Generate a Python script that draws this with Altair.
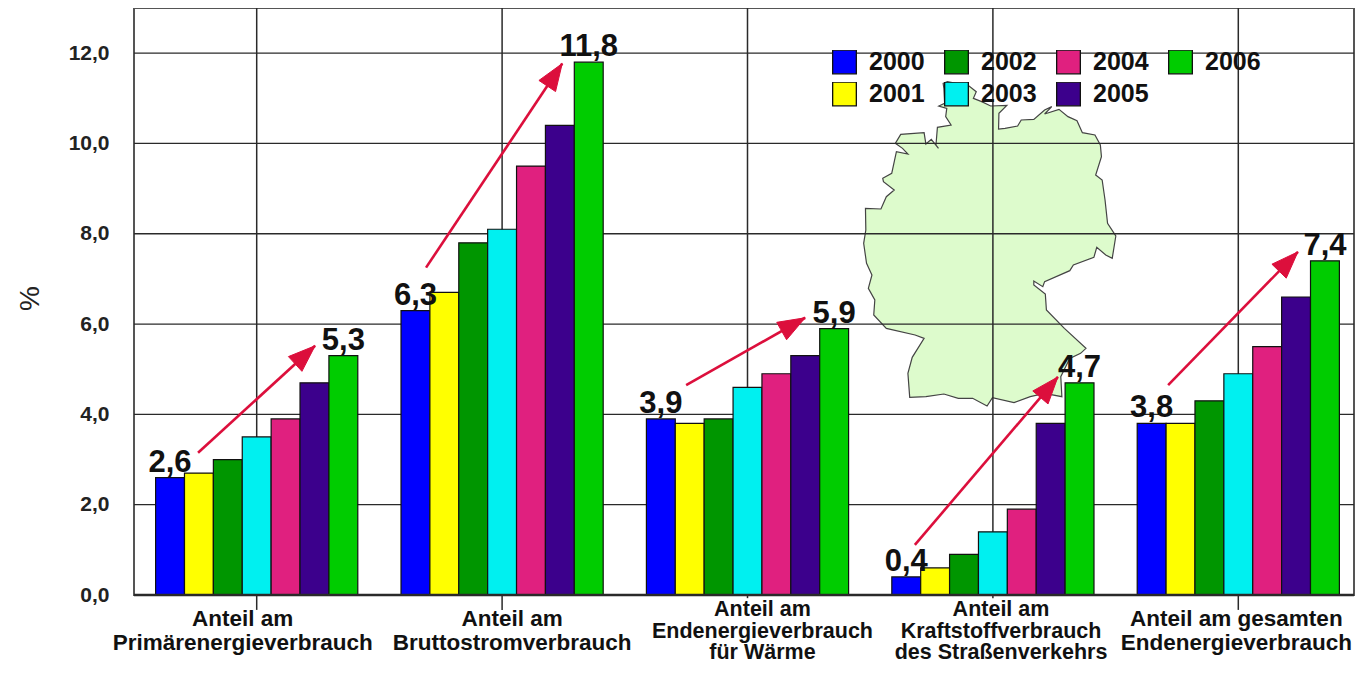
import altair as alt
import pandas as pd

CATEGORIES = ["Anteil am\nPrimärenergieverbrauch", "Anteil am\nBruttostromverbrauch",
              "Anteil am\nEndenergieverbrauch\nfür Wärme",
              "Anteil am\nKraftstoffverbrauch\ndes Straßenverkehrs",
              "Anteil am gesamten\nEndenergieverbrauch"]
YEARS = ["2000", "2001", "2002", "2003", "2004", "2005", "2006"]
COLORS = ["#0000FF", "#FFFF00", "#009600", "#00F0F0", "#E0207F", "#3C008C", "#00CC00"]
VALUES = [
    [2.6, 2.7, 3.0, 3.5, 3.9, 4.7, 5.3],
    [6.3, 6.7, 7.8, 8.1, 9.5, 10.4, 11.8],
    [3.9, 3.8, 3.9, 4.6, 4.9, 5.3, 5.9],
    [0.4, 0.6, 0.9, 1.4, 1.9, 3.8, 4.7],
    [3.8, 3.8, 4.3, 4.9, 5.5, 6.6, 7.4],
]
LABEL_NUDGE = [-0.057, 0.041, 0.061, 0.033, -0.008]
TICK_DROP = [0.33, 0.33, 0.07, 0.07, 0.33]
Y_TICKS = [0, 2, 4, 6, 8, 10, 12]

# arrows: start x, start y, tip x, tip y (x in group units, y in percent)
ARROWS = [
    (0.261, 3.15, 0.738, 5.52),
    (1.190, 7.25, 1.745, 11.77),
    (2.250, 4.65, 2.735, 6.14),
    (3.182, 1.11, 3.765, 4.83),
    (4.214, 4.65, 4.743, 7.60),
]

# outline of the map, as (x, y) in a local picture grid
MAP_OUTLINE = [
    (386,318),(402,310),(400,265),(398,250),(410,245),(470,258),(490,275),(482,295),(505,305),
    (530,318),(575,316),(553,340),(552,387),(570,385),(605,378),(615,360),(650,358),(680,330),
    (700,320),(680,342),(720,328),(745,350),(770,362),(785,398),(820,405),(835,435),(838,470),
    (822,525),(840,540),(848,600),(855,670),(878,708),(868,775),(850,765),(825,742),(817,772),
    (760,795),(750,812),(680,845),(675,860),(650,843),(650,855),(682,882),(685,930),(735,985),
    (795,1045),(780,1060),(750,1075),(725,1130),(728,1190),(680,1180),(640,1190),(595,1208),
    (535,1193),(520,1218),(480,1195),(440,1195),(400,1182),(350,1190),(305,1192),(300,1120),
    (312,1072),(345,1015),(320,1005),(240,985),(205,945),(208,900),(190,865),(200,825),(185,790),
    (177,730),(183,690),(182,625),(225,627),(240,590),(262,570),(232,545),(230,535),(255,520),
    (268,455),(300,462),(285,445),(265,430),(280,403),(345,398),(350,432),(365,418),(385,445),
    (378,435),(382,382),(420,375),(405,350),(408,325),
]

W, H = 1220, 587
GROUP_PX = 245.4
FONT = "Liberation Sans"
BAR = 0.1177
XMAX, YMAX = W / GROUP_PX, 13
ink = "#2a2a2a"
red = "#DC0F3C"

px = lambda v: v / W * XMAX     # pixel length -> x units
py = lambda v: v / H * YMAX     # pixel length -> y units

bars = pd.DataFrame([
    {"cat": c, "year": y, "v": VALUES[c][i], "base": 0,
     "x0": c + 0.5 + (i - 3.5) * BAR, "x1": c + 0.5 + (i - 2.5) * BAR}
    for c in range(5) for i, y in enumerate(YEARS)
])
ends = pd.DataFrame([
    {"x": c + 0.5 + (i - 3) * BAR, "v": VALUES[c][i],
     "t": f"{VALUES[c][i]:.1f}".replace(".", ",")}
    for c in range(5) for i in (0, 6)
])
cats = pd.DataFrame([{"x": c + 0.5 + LABEL_NUDGE[c], "t": t.split("\n"), "n": t.count("\n") + 1}
                     for c, t in enumerate(CATEGORIES)])
ticks = pd.DataFrame([{"x": c + 0.5, "y": 0, "y2": -TICK_DROP[c]} for c in range(5)])
map_df = pd.DataFrame([
    {"i": i, "x": (800 + X / 2.78 - 134) / GROUP_PX, "y": (595 - Y / 3) / H * YMAX}
    for i, (X, Y) in enumerate(MAP_OUTLINE)
])
shafts = pd.DataFrame(ARROWS, columns=["x", "y", "x2", "y2"])
heads = []
for k, (x0, y0, x1, y1) in enumerate(ARROWS):
    dx, dy = (x1 - x0) * GROUP_PX, (y1 - y0) * H / YMAX
    n = (dx * dx + dy * dy) ** 0.5
    ux, uy = dx / n, dy / n
    L, R = 27, 10
    bx, by = -ux * L, -uy * L
    pts = [(0, 0), (bx - uy * R, by + ux * R), (bx + uy * R, by - ux * R)]
    for j, (a, b) in enumerate(pts):
        heads.append({"k": k, "i": j, "x": x1 + px(a), "y": y1 + py(b)})
heads = pd.DataFrame(heads)

xs = alt.Scale(domain=[0, XMAX], nice=False, zero=False)
ys = alt.Scale(domain=[0, YMAX], nice=False)
x_axis = alt.Axis(labels=False, title=None, grid=False, domain=False, ticks=False)
y_axis = alt.Axis(
    values=Y_TICKS, grid=False, domain=False, ticks=False, labelPadding=25,
    labelExpr="replace(format(datum.value,'.1f'),'.',',')",
    labelFont=FONT, labelFontWeight="bold", labelFontSize=21, labelColor="#222222",
    title="%", titleFont=FONT, titleFontWeight="normal", titleFontSize=28, titleColor="#222222",
    titleX=-104, titleY=290, titleAngle=270, titleAlign="center", titleBaseline="middle")


def X(f):
    return alt.X(f, scale=xs, axis=x_axis)


def Y(f):
    return alt.Y(f, scale=ys, axis=y_axis)


map_layer = alt.Chart(map_df).mark_line(
    interpolate="linear-closed", fill="#DDFBCC", stroke="#444444", strokeWidth=1.2
).encode(x=X("x:Q"), y=Y("y:Q"), order="i:Q")

vgrid = alt.Chart(pd.DataFrame({"x": [c + 0.5 for c in range(5)]})).mark_rule(
    color=ink, strokeWidth=1.5).encode(x=X("x:Q"))
hgrid = alt.Chart(pd.DataFrame({"y": Y_TICKS[1:]})).mark_rule(
    color=ink, strokeWidth=1.3).encode(y=Y("y:Q"))
tick_layer = alt.Chart(ticks).mark_rule(color=ink, strokeWidth=1.5).encode(
    x=X("x:Q"), y=Y("y:Q"), y2="y2:Q")

bar_layer = alt.Chart(bars).mark_bar(stroke="#111111", strokeWidth=1.2).encode(
    x=X("x0:Q"), x2="x1:Q", y=Y("v:Q"), y2="base:Q",
    color=alt.Color("year:N", scale=alt.Scale(domain=YEARS, range=COLORS), legend=alt.Legend(
        orient="none", legendX=698, legendY=42, columns=4, direction="vertical", title=None,
        symbolType="square", symbolSize=560, symbolStrokeColor="#111111", symbolStrokeWidth=1.3,
        symbolOpacity=1, labelFont=FONT, labelFontWeight="bold", labelFontSize=25,
        labelColor="#111111", labelOffset=12, columnPadding=19, rowPadding=7,
        clipHeight=24, padding=0)),
)

baseline = alt.Chart(pd.DataFrame({"y": [0]})).mark_rule(color=ink, strokeWidth=2.6).encode(y=Y("y:Q"))

shaft_layer = alt.Chart(shafts).mark_rule(color=red, strokeWidth=2.6).encode(
    x=X("x:Q"), y=Y("y:Q"), x2="x2:Q", y2="y2:Q")

head_layer = alt.Chart(heads).mark_line(
    interpolate="linear-closed", fill=red, stroke=red, strokeWidth=1
).encode(x=X("x:Q"), y=Y("y:Q"), detail="k:N", order="i:Q")

end_labels = alt.Chart(ends).mark_text(
    font=FONT, fontWeight="bold", fontSize=31, color="#111111", baseline="alphabetic", dy=-6
).encode(x=X("x:Q"), y=Y("v:Q"), text="t:N")

cat_two = alt.Chart(cats[cats.n == 2]).mark_text(
    font=FONT, fontWeight="bold", fontSize=22.5, color="#111111", baseline="alphabetic", lineHeight=24
).encode(x=X("x:Q"), y=alt.value(618), text="t")
cat_three = alt.Chart(cats[cats.n == 3]).mark_text(
    font=FONT, fontWeight="bold", fontSize=21.5, color="#111111", baseline="alphabetic", lineHeight=21.5
).encode(x=X("x:Q"), y=alt.value(608), text="t")

chart = alt.layer(
    map_layer, vgrid, hgrid, tick_layer, bar_layer, baseline, shaft_layer, head_layer,
    end_labels, cat_two, cat_three
).properties(
    width=W, height=H,
    padding={"left": 126, "top": 0, "right": 1, "bottom": 68},
    autosize=alt.AutoSizeParams(type="none"),
).configure_view(stroke="#555555", strokeWidth=2)

chart.save("out.html", embed_options={"renderer": "svg", "actions": False})
